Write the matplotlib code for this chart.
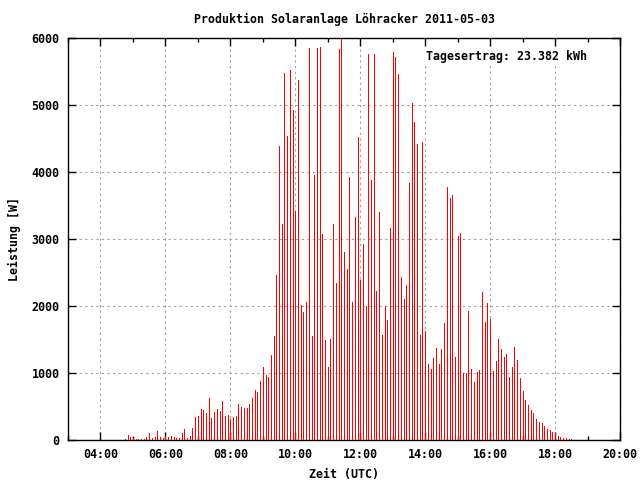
import numpy as np
import matplotlib
matplotlib.use("Agg")
import matplotlib.pyplot as plt
from matplotlib.ticker import MultipleLocator, FixedLocator

# time of first sample (hours) and sample interval (minutes)
start_hour = 4 + 45 / 60
step_min = 5

power_w = [
    15, 75, 45, 30, 15, 15, 15, 15, 45, 105, 30, 45, 135, 45, 30,            # 04:45-05:55
    60, 45, 60, 45, 30, 30, 105, 165, 30, 60, 180, 345,                      # 06:00-06:55
    360, 465, 450, 403, 627, 328, 418, 463, 433, 582, 358, 373,              # 07:00-07:55
    313, 343, 358, 537, 493, 478, 478, 537, 627, 746, 716, 881,              # 08:00-08:55
    1090, 970, 940, 1269, 1552, 2468, 4388, 3224, 5477, 4537, 5522, 4925,    # 09:00-09:55
    3418, 5373, 2015, 1910, 2060, 5851, 1552, 3955, 5851, 5866, 3075, 1493,  # 10:00-10:55
    1090, 1507, 3224, 2343, 5836, 5985, 2800, 2552, 3925, 2060, 3328, 4522,  # 11:00-11:55
    2388, 2925, 2000, 5761, 3881, 5761, 2224, 3403, 1567, 2000, 1791, 3164,  # 12:00-12:55
    5791, 5716, 5463, 2433, 2104, 2313, 3836, 5030, 4746, 4418, 1567, 4448,  # 13:00-13:55
    1627, 1134, 1060, 1224, 1373, 1134, 1358, 1746, 3776, 3612, 3657, 1239,  # 14:00-14:55
    3045, 3090, 1000, 1000, 1925, 1060, 866, 1015, 1045, 2209, 1761, 2045,   # 15:00-15:55
    1806, 1030, 1179, 1507, 1358, 1239, 1284, 940, 1090, 1388, 1194, 925,    # 16:00-16:55
    731, 597, 522, 448, 403, 313, 269, 254, 209, 164, 149, 119,              # 17:00-17:55
    104, 60, 45, 30, 30, 15, 15,                                             # 18:00-18:30
]

x_ticks_h = [4, 6, 8, 10, 12, 14, 16, 18, 20]
x_tick_labels = ["04:00", "06:00", "08:00", "10:00", "12:00", "14:00", "16:00", "18:00", "20:00"]
y_ticks = [0, 1000, 2000, 3000, 4000, 5000, 6000]

title = "Produktion Solaranlage Löhracker 2011-05-03"
daily_text = "Tagesertrag: 23.382 kWh"

times_h = start_hour + np.arange(len(power_w)) * step_min / 60.0

fs = 8.4
plt.rcParams['font.family'] = ['DejaVu Sans Mono']
plt.rcParams['font.weight'] = 'bold'
plt.rcParams['font.size'] = fs

fig = plt.figure(figsize=(6.4, 4.8), dpi=100)
ax = fig.add_axes([68 / 640, 1 - 440 / 480, (620 - 68) / 640, (440 - 38) / 480])

ax.vlines(times_h, 0, power_w, colors='#ff0000', linewidth=0.72, antialiased=False, zorder=3)

ax.set_xlim(3, 20)
ax.set_ylim(0, 6000)
ax.xaxis.set_major_locator(FixedLocator(x_ticks_h))
ax.set_xticklabels(x_tick_labels)
ax.xaxis.set_minor_locator(MultipleLocator(1))
ax.yaxis.set_major_locator(FixedLocator(y_ticks))
ax.set_yticklabels([str(v) for v in y_ticks])

ax.grid(True, which='major', color='#a0a0a0', linestyle=(0, (2, 3)), linewidth=0.8, zorder=1)
ax.tick_params(which='both', direction='in', top=True, right=True, width=1, colors='black')
ax.tick_params(which='major', length=6, pad=6, labelsize=fs)
ax.tick_params(which='minor', length=3)
for s in ax.spines.values():
    s.set_linewidth(1.0)

ax.set_title(title, fontsize=fs, fontweight='bold', pad=11)
ax.set_xlabel("Zeit (UTC)", fontsize=fs, fontweight='bold', labelpad=5)
ax.set_ylabel("Leistung [W]", fontsize=fs, fontweight='bold', labelpad=8)
ax.text(0.94, 0.955, daily_text, transform=ax.transAxes, ha='right', va='center',
        fontsize=fs, fontweight='bold', zorder=4,
        bbox=dict(facecolor='white', edgecolor='none', pad=1))

fig.savefig("out.png", dpi=100)
